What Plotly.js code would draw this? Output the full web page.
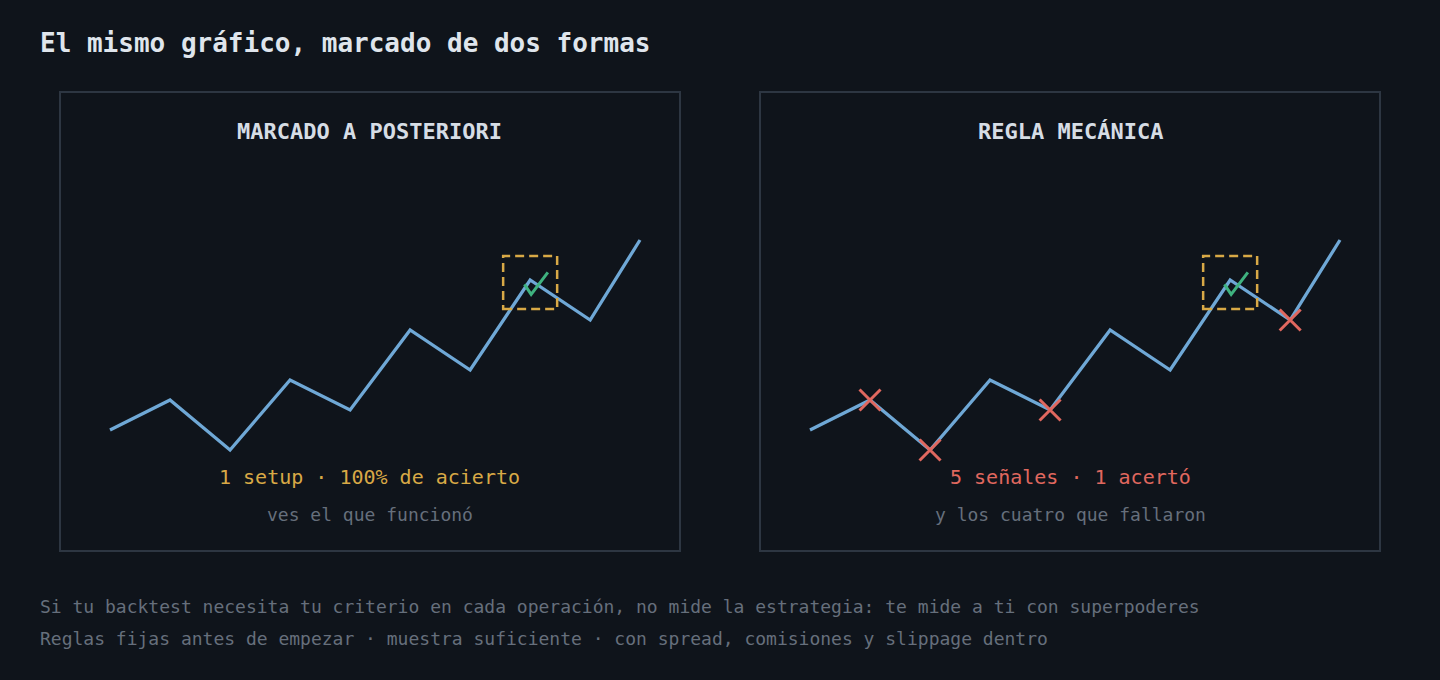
<!DOCTYPE html>
<html>
<head>
<meta charset="utf-8">
<script src="https://cdn.plot.ly/plotly-3.0.1.min.js"></script>
<style>
  html, body { margin: 0; padding: 0; background: #0f141b; }
  #chart { width: 1440px; height: 680px; }
</style>
</head>
<body>
<div id="chart"></div>
<script>
// ---- Datos ----
const tiempo = [0, 1, 2, 3, 4, 5, 6, 7, 8, 8.83];
const precio = [10, 25, 0, 35, 20, 60, 40, 85, 65, 105];
const setupIdx = 7;               // el setup que se marca a posteriori
const fallosIdx = [1, 2, 4, 8];   // señales de la regla que fallaron

const titulo = 'El mismo gráfico, marcado de dos formas';
const panelTitulos = ['MARCADO A POSTERIORI', 'REGLA MECÁNICA'];
const panelResumen = ['1 setup · 100% de acierto', '5 señales · 1 acertó'];
const panelNota = ['ves el que funcionó', 'y los cuatro que fallaron'];
const pie = [
  'Si tu backtest necesita tu criterio en cada operación, no mide la estrategia: te mide a ti con superpoderes',
  'Reglas fijas antes de empezar · muestra suficiente · con spread, comisiones y slippage dentro'
];

// ---- Colores ----
const BG = '#0f141b';
const BORDE = '#2d3642';
const LINEA = '#6fa8d6';
const ORO = '#d8a946';
const ROJO = '#e0685f';
const VERDE = '#3fb27f';
const GRIS = '#666f7c';
const MONO = '"DejaVu Sans Mono", "Liberation Mono", monospace';

const W = 1440, H = 680;
const px = v => v / W;
const py = v => 1 - v / H;

// ---- Trazas ----
const traces = [];
['x', 'x2'].forEach(xa => {
  traces.push({
    x: tiempo, y: precio, xaxis: xa, yaxis: 'y',
    type: 'scatter', mode: 'lines',
    line: { color: LINEA, width: 3.3 },
    hoverinfo: 'skip', cliponaxis: false
  });
});
traces.push({
  x: fallosIdx.map(i => tiempo[i]),
  y: fallosIdx.map(i => precio[i]),
  xaxis: 'x2', yaxis: 'y',
  type: 'scatter', mode: 'markers',
  marker: { symbol: 'x-thin', size: 21, color: ROJO, line: { color: ROJO, width: 3 } },
  hoverinfo: 'skip', cliponaxis: false
});

// ---- Shapes: marcos de panel, caja del setup y check ----
const shapes = [];
[[60, 680], [760, 1380]].forEach(([a, b]) => {
  shapes.push({
    type: 'rect', xref: 'paper', yref: 'paper',
    x0: px(a), x1: px(b), y0: py(551), y1: py(92),
    line: { color: BORDE, width: 2 }, layer: 'below'
  });
});
['x', 'x2'].forEach(xa => {
  shapes.push({
    type: 'rect', xref: xa, yref: 'y',
    xsizemode: 'pixel', ysizemode: 'pixel',
    xanchor: tiempo[setupIdx], yanchor: precio[setupIdx],
    x0: -27, x1: 27, y0: -29, y1: 24,
    line: { color: ORO, width: 2.5, dash: '9px,5px' }
  });
  shapes.push({
    type: 'path', xref: xa, yref: 'y',
    xsizemode: 'pixel', ysizemode: 'pixel',
    xanchor: tiempo[setupIdx], yanchor: precio[setupIdx],
    path: 'M-5.7,-4.3 L1,-14.3 L17.7,7.7',
    line: { color: VERDE, width: 3 }
  });
});

// ---- Textos ----
const annotations = [];
function texto(t, x, y, size, color, opts = {}) {
  annotations.push(Object.assign({
    text: t, xref: 'paper', yref: 'paper', x: px(x), y: py(y),
    xanchor: 'center', yanchor: 'middle', showarrow: false,
    font: { family: MONO, size: size, color: color }
  }, opts));
}
texto('<b>' + titulo + '</b>', 38, 43, 26, '#dfe5ec', { xanchor: 'left' });
[370, 1070].forEach((cx, i) => {
  texto('<b>' + panelTitulos[i] + '</b>', cx, 132, 22, '#d6dde5');
  texto(panelResumen[i], cx, 477, 20, i === 0 ? ORO : ROJO);
  texto(panelNota[i], cx, 514, 18, GRIS);
});
texto(pie[0], 38, 606, 18, GRIS, { xanchor: 'left' });
texto(pie[1], 38, 638, 18, GRIS, { xanchor: 'left' });

// ---- Layout ----
const ejeX = dom => ({
  domain: dom, range: [-0.5, 9.33], visible: false, fixedrange: true
});
const layout = {
  width: W, height: H,
  paper_bgcolor: BG, plot_bgcolor: BG,
  margin: { t: 0, r: 0, b: 0, l: 0 },
  showlegend: false,
  xaxis: ejeX([px(80), px(670)]),
  xaxis2: Object.assign(ejeX([px(780), px(1370)]), { anchor: 'y' }),
  yaxis: { domain: [py(470), py(220)], range: [-10, 115], visible: false, fixedrange: true },
  shapes: shapes,
  annotations: annotations
};

Plotly.newPlot('chart', traces, layout, { displayModeBar: false, staticPlot: true });
</script>
</body>
</html>
